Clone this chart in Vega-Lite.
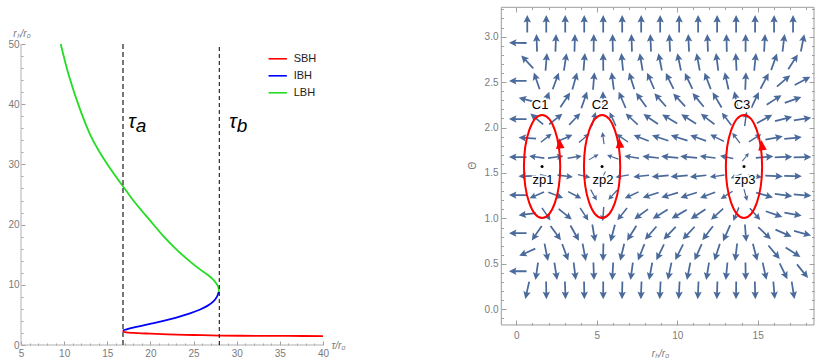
{
"$schema":"https://vega.github.io/schema/vega-lite/v6.json",
"width":815,"height":362,"autosize":{"type":"none"},"padding":0,"background":"#ffffff",
"config":{"view":{"stroke":null},"font":"Liberation Sans",
"axis":{"grid":false,"domain":false,"labelColor":"#7a7a7a","labelFont":"Liberation Sans","labelFontSize":10,"tickColor":"#a0a0a0","tickWidth":1,"titleColor":"#7a7a7a","titleFont":"Liberation Sans","titleFontWeight":"normal","titleFontSize":10,"labelOverlap":false,"labelFlush":false}},
"datasets":{
"curves":[
{"s":"SBH","o":1,"x":16.82,"y":2.45},{"s":"SBH","o":2,"x":16.9,"y":2.22},{"s":"SBH","o":3,"x":17.2,"y":2.1},{"s":"SBH","o":4,"x":18,"y":2.0},{"s":"SBH","o":5,"x":20,"y":1.88},{"s":"SBH","o":6,"x":22,"y":1.78},{"s":"SBH","o":7,"x":25,"y":1.66},{"s":"SBH","o":8,"x":28,"y":1.57},{"s":"SBH","o":9,"x":32,"y":1.53},{"s":"SBH","o":10,"x":36,"y":1.5},{"s":"SBH","o":11,"x":40,"y":1.48},
{"s":"IBH","o":1,"x":16.82,"y":2.45},{"s":"IBH","o":2,"x":17.5,"y":2.7},{"s":"IBH","o":3,"x":18.5,"y":3.05},{"s":"IBH","o":4,"x":19.95,"y":3.5},{"s":"IBH","o":5,"x":21.5,"y":4.0},{"s":"IBH","o":6,"x":23,"y":4.55},{"s":"IBH","o":7,"x":24.5,"y":5.2},{"s":"IBH","o":8,"x":25.7,"y":5.85},{"s":"IBH","o":9,"x":26.6,"y":6.5},{"s":"IBH","o":10,"x":27.3,"y":7.25},{"s":"IBH","o":11,"x":27.7,"y":8.0},{"s":"IBH","o":12,"x":27.92,"y":8.8},
{"s":"LBH","o":1,"x":27.92,"y":8.8},{"s":"LBH","o":2,"x":27.9,"y":9.5},{"s":"LBH","o":3,"x":27.6,"y":10.3},{"s":"LBH","o":4,"x":27.1,"y":11.1},{"s":"LBH","o":5,"x":26.4,"y":11.9},{"s":"LBH","o":6,"x":25.7,"y":12.6},{"s":"LBH","o":7,"x":24.4,"y":14.1},{"s":"LBH","o":8,"x":23.0,"y":15.9},{"s":"LBH","o":9,"x":21.5,"y":18.1},{"s":"LBH","o":10,"x":19.95,"y":20.7},{"s":"LBH","o":11,"x":18.3,"y":23.5},{"s":"LBH","o":12,"x":16.8,"y":26.4},{"s":"LBH","o":13,"x":15.3,"y":29.4},{"s":"LBH","o":14,"x":14.0,"y":32.3},{"s":"LBH","o":15,"x":13.0,"y":35.0},{"s":"LBH","o":16,"x":11.8,"y":39.3},{"s":"LBH","o":17,"x":10.6,"y":44.5},{"s":"LBH","o":18,"x":9.6,"y":50.0}
],
"zp":[{"x":1.6,"y":1.571,"c":"C1","z":"zp1"},{"x":5.33,"y":1.571,"c":"C2","z":"zp2"},{"x":14.15,"y":1.571,"c":"C3","z":"zp3"}],
"heads":[{"x":2.7,"y":1.82},{"x":6.42,"y":1.826},{"x":15.27,"y":1.8}],
"arrows":[
{"x":0.68,"y":3.142,"a":0,"m":2},{"x":1.86,"y":3.142,"a":0,"m":2},{"x":3.04,"y":3.142,"a":0,"m":2},{"x":4.22,"y":3.142,"a":0,"m":2},{"x":5.4,"y":3.142,"a":0,"m":2},{"x":6.58,"y":3.142,"a":0,"m":2},{"x":7.76,"y":3.142,"a":0,"m":2},{"x":8.94,"y":3.142,"a":0,"m":2},{"x":10.12,"y":3.142,"a":0,"m":2},{"x":11.3,"y":3.142,"a":0,"m":2},{"x":12.48,"y":3.142,"a":0,"m":2},{"x":13.66,"y":3.142,"a":0,"m":2},{"x":14.84,"y":3.142,"a":0,"m":2},{"x":16.02,"y":3.142,"a":0,"m":2},{"x":17.2,"y":3.142,"a":0,"m":2},
{"x":0.09,"y":2.932,"a":-89,"m":2},{"x":1.27,"y":2.932,"a":-2.1,"m":2},{"x":2.45,"y":2.932,"a":2.2,"m":2},{"x":3.63,"y":2.932,"a":1.7,"m":2},{"x":4.81,"y":2.932,"a":0.5,"m":2},{"x":5.99,"y":2.932,"a":-0.8,"m":2},{"x":7.17,"y":2.932,"a":-1.9,"m":2},{"x":8.35,"y":2.932,"a":-2.6,"m":2},{"x":9.53,"y":2.932,"a":-2.9,"m":2},{"x":10.71,"y":2.932,"a":-2.8,"m":2},{"x":11.89,"y":2.932,"a":-2.3,"m":2},{"x":13.07,"y":2.932,"a":-1.3,"m":2},{"x":14.25,"y":2.932,"a":0.2,"m":2},{"x":15.43,"y":2.932,"a":3.1,"m":2},{"x":16.61,"y":2.932,"a":6.9,"m":2},{"x":17.79,"y":2.932,"a":11.2,"m":2},
{"x":0.68,"y":2.723,"a":-42.8,"m":2},{"x":1.86,"y":2.723,"a":4.8,"m":2},{"x":3.04,"y":2.723,"a":8.7,"m":2},{"x":4.22,"y":2.723,"a":4.6,"m":2},{"x":5.4,"y":2.723,"a":-0.5,"m":2},{"x":6.58,"y":2.723,"a":-5.6,"m":2},{"x":7.76,"y":2.723,"a":-9.4,"m":2},{"x":8.94,"y":2.723,"a":-11.4,"m":2},{"x":10.12,"y":2.723,"a":-11.8,"m":2},{"x":11.3,"y":2.723,"a":-10.6,"m":2},{"x":12.48,"y":2.723,"a":-7.7,"m":2},{"x":13.66,"y":2.723,"a":-2.9,"m":2},{"x":14.84,"y":2.723,"a":6.1,"m":2},{"x":16.02,"y":2.723,"a":19.4,"m":2},{"x":17.2,"y":2.723,"a":33,"m":2},
{"x":0.09,"y":2.513,"a":-90,"m":2},{"x":1.27,"y":2.513,"a":-19.1,"m":2},{"x":2.45,"y":2.513,"a":20.2,"m":2},{"x":3.63,"y":2.513,"a":15.7,"m":2},{"x":4.81,"y":2.513,"a":4.7,"m":2},{"x":5.99,"y":2.513,"a":-7.6,"m":2},{"x":7.17,"y":2.513,"a":-17.5,"m":2},{"x":8.35,"y":2.513,"a":-23.6,"m":2},{"x":9.53,"y":2.513,"a":-26.1,"m":2},{"x":10.71,"y":2.513,"a":-25.3,"m":2},{"x":11.89,"y":2.513,"a":-21.1,"m":2},{"x":13.07,"y":2.513,"a":-12.7,"m":2},{"x":14.25,"y":2.513,"a":2.2,"m":2},{"x":15.43,"y":2.513,"a":27.6,"m":2},{"x":16.61,"y":2.513,"a":49.1,"m":2},{"x":17.79,"y":2.513,"a":62.4,"m":2},
{"x":0.68,"y":2.304,"a":-76.2,"m":2},{"x":1.86,"y":2.304,"a":20.1,"m":1.31},{"x":3.04,"y":2.304,"a":34,"m":1.48},{"x":4.22,"y":2.304,"a":19.3,"m":1.3},{"x":5.4,"y":2.304,"a":-2.3,"m":1.23},{"x":6.58,"y":2.304,"a":-23.3,"m":1.34},{"x":7.76,"y":2.304,"a":-35.9,"m":1.52},{"x":8.94,"y":2.304,"a":-41.5,"m":1.64},{"x":10.12,"y":2.304,"a":-42.6,"m":1.67},{"x":11.3,"y":2.304,"a":-39.4,"m":1.59},{"x":12.48,"y":2.304,"a":-30.7,"m":1.43},{"x":13.66,"y":2.304,"a":-12.4,"m":1.26},{"x":14.84,"y":2.304,"a":25.2,"m":1.36},{"x":16.02,"y":2.304,"a":57.1,"m":2},{"x":17.2,"y":2.304,"a":70.6,"m":2},
{"x":0.09,"y":2.094,"a":-90,"m":2},{"x":1.27,"y":2.094,"a":-49.7,"m":1.05},{"x":2.45,"y":2.094,"a":51.4,"m":1.09},{"x":3.63,"y":2.094,"a":43.8,"m":0.94},{"x":4.81,"y":2.094,"a":15.7,"m":0.7},{"x":5.99,"y":2.094,"a":-24.6,"m":0.75},{"x":7.17,"y":2.094,"a":-47.1,"m":1.0},{"x":8.35,"y":2.094,"a":-56.1,"m":1.22},{"x":9.53,"y":2.094,"a":-59,"m":1.32},{"x":10.71,"y":2.094,"a":-58.1,"m":1.28},{"x":11.89,"y":2.094,"a":-52.7,"m":1.12},{"x":13.07,"y":2.094,"a":-37.5,"m":0.85},{"x":14.25,"y":2.094,"a":7.6,"m":0.68},{"x":15.43,"y":2.094,"a":60.7,"m":1.39},{"x":16.61,"y":2.094,"a":75.8,"m":2},{"x":17.79,"y":2.094,"a":81.3,"m":2},
{"x":0.68,"y":1.885,"a":-85.9,"m":2},{"x":1.86,"y":1.885,"a":51.3,"m":0.58},{"x":3.04,"y":1.885,"a":66.5,"m":0.9},{"x":4.22,"y":1.885,"a":50,"m":0.56},{"x":5.4,"y":1.885,"a":-7.9,"m":0.36},{"x":6.58,"y":1.885,"a":-55.7,"m":0.64},{"x":7.76,"y":1.885,"a":-67.9,"m":0.96},{"x":8.94,"y":1.885,"a":-71.7,"m":1.15},{"x":10.12,"y":1.885,"a":-72.3,"m":1.19},{"x":11.3,"y":1.885,"a":-70.3,"m":1.07},{"x":12.48,"y":1.885,"a":-63.7,"m":0.81},{"x":13.66,"y":1.885,"a":-36.8,"m":0.45},{"x":14.84,"y":1.885,"a":58.1,"m":0.68},{"x":16.02,"y":1.885,"a":79.2,"m":1.93},{"x":17.2,"y":1.885,"a":84.1,"m":2},
{"x":0.09,"y":1.675,"a":-90,"m":2},{"x":1.27,"y":1.675,"a":-82.2,"m":0.81},{"x":2.45,"y":1.675,"a":82.6,"m":0.86},{"x":3.63,"y":1.675,"a":80.4,"m":0.66},{"x":4.81,"y":1.675,"a":59.9,"m":0.22},{"x":5.99,"y":1.675,"a":-70.5,"m":0.33},{"x":7.17,"y":1.675,"a":-81.4,"m":0.74},{"x":8.35,"y":1.675,"a":-83.8,"m":1.02},{"x":9.53,"y":1.675,"a":-84.4,"m":1.14},{"x":10.71,"y":1.675,"a":-84.2,"m":1.1},{"x":11.89,"y":1.675,"a":-82.9,"m":0.9},{"x":13.07,"y":1.675,"a":-78.1,"m":0.53},{"x":14.25,"y":1.675,"a":39.3,"m":0.14},{"x":15.43,"y":1.675,"a":84.8,"m":1.21},{"x":16.61,"y":1.675,"a":87.6,"m":2},{"x":17.79,"y":1.675,"a":88.6,"m":2},
{"x":0.68,"y":1.466,"a":-91.2,"m":2},{"x":1.86,"y":1.466,"a":102.8,"m":0.46},{"x":3.04,"y":1.466,"a":97,"m":0.84},{"x":4.22,"y":1.466,"a":103.3,"m":0.44},{"x":5.4,"y":1.466,"a":-153.9,"m":0.11},{"x":6.58,"y":1.466,"a":-100.9,"m":0.54},{"x":7.76,"y":1.466,"a":-96.5,"m":0.9},{"x":8.94,"y":1.466,"a":-95.3,"m":1.09},{"x":10.12,"y":1.466,"a":-95.2,"m":1.13},{"x":11.3,"y":1.466,"a":-95.8,"m":1.02},{"x":12.48,"y":1.466,"a":-98,"m":0.74},{"x":13.66,"y":1.466,"a":-110.7,"m":0.29},{"x":14.84,"y":1.466,"a":100,"m":0.59},{"x":16.02,"y":1.466,"a":93.1,"m":1.9},{"x":17.2,"y":1.466,"a":91.7,"m":2},
{"x":0.09,"y":1.257,"a":-90,"m":2},{"x":1.27,"y":1.257,"a":-112.8,"m":0.87},{"x":2.45,"y":1.257,"a":111.6,"m":0.91},{"x":3.63,"y":1.257,"a":117.4,"m":0.73},{"x":4.81,"y":1.257,"a":150.6,"m":0.39},{"x":5.99,"y":1.257,"a":-137.4,"m":0.46},{"x":7.17,"y":1.257,"a":-114.8,"m":0.8},{"x":8.35,"y":1.257,"a":-108.4,"m":1.06},{"x":9.53,"y":1.257,"a":-106.6,"m":1.18},{"x":10.71,"y":1.257,"a":-107.2,"m":1.14},{"x":11.89,"y":1.257,"a":-110.7,"m":0.95},{"x":13.07,"y":1.257,"a":-122.9,"m":0.62},{"x":14.25,"y":1.257,"a":165,"m":0.35},{"x":15.43,"y":1.257,"a":105.6,"m":1.26},{"x":16.61,"y":1.257,"a":97.2,"m":2},{"x":17.79,"y":1.257,"a":94.4,"m":2},
{"x":0.68,"y":1.047,"a":-97.5,"m":2},{"x":1.86,"y":1.047,"a":145.7,"m":0.8},{"x":3.04,"y":1.047,"a":128.5,"m":1.06},{"x":4.22,"y":1.047,"a":146.9,"m":0.79},{"x":5.4,"y":1.047,"a":-175.7,"m":0.66},{"x":6.58,"y":1.047,"a":-141.2,"m":0.85},{"x":7.76,"y":1.047,"a":-126.6,"m":1.11},{"x":8.94,"y":1.047,"a":-121.2,"m":1.27},{"x":10.12,"y":1.047,"a":-120.3,"m":1.31},{"x":11.3,"y":1.047,"a":-123.2,"m":1.21},{"x":12.48,"y":1.047,"a":-132.1,"m":0.98},{"x":13.66,"y":1.047,"a":-157.8,"m":0.71},{"x":14.84,"y":1.047,"a":138.7,"m":0.88},{"x":16.02,"y":1.047,"a":109.2,"m":2},{"x":17.2,"y":1.047,"a":100.7,"m":2},
{"x":0.09,"y":0.838,"a":-90,"m":2},{"x":1.27,"y":0.838,"a":-145.6,"m":1.42},{"x":2.45,"y":0.838,"a":144,"m":1.45},{"x":3.63,"y":0.838,"a":150.9,"m":1.34},{"x":4.81,"y":0.838,"a":170.8,"m":1.19},{"x":5.99,"y":0.838,"a":-165.2,"m":1.21},{"x":7.17,"y":0.838,"a":-148,"m":1.38},{"x":8.35,"y":0.838,"a":-139.2,"m":1.55},{"x":9.53,"y":0.838,"a":-136,"m":1.63},{"x":10.71,"y":0.838,"a":-137,"m":1.6},{"x":11.89,"y":0.838,"a":-142.7,"m":1.47},{"x":13.07,"y":0.838,"a":-156,"m":1.28},{"x":14.25,"y":0.838,"a":175.6,"m":1.17},{"x":15.43,"y":0.838,"a":134,"m":1.68},{"x":16.61,"y":0.838,"a":113.7,"m":2},{"x":17.79,"y":0.838,"a":104.9,"m":2},
{"x":0.68,"y":0.628,"a":-114.2,"m":2},{"x":1.86,"y":0.628,"a":168.7,"m":2},{"x":3.04,"y":0.628,"a":159.8,"m":2},{"x":4.22,"y":0.628,"a":169.2,"m":2},{"x":5.4,"y":0.628,"a":-178.7,"m":2},{"x":6.58,"y":0.628,"a":-166.7,"m":2},{"x":7.76,"y":0.628,"a":-158.4,"m":2},{"x":8.94,"y":0.628,"a":-154.2,"m":2},{"x":10.12,"y":0.628,"a":-153.3,"m":2},{"x":11.3,"y":0.628,"a":-155.8,"m":2},{"x":12.48,"y":0.628,"a":-162,"m":2},{"x":13.66,"y":0.628,"a":-173.2,"m":2},{"x":14.84,"y":0.628,"a":165.5,"m":2},{"x":16.02,"y":0.628,"a":139.8,"m":2},{"x":17.2,"y":0.628,"a":122.7,"m":2},
{"x":0.09,"y":0.419,"a":-90,"m":2},{"x":1.27,"y":0.419,"a":-171.7,"m":2},{"x":2.45,"y":0.419,"a":171.2,"m":2},{"x":3.63,"y":0.419,"a":173.2,"m":2},{"x":4.81,"y":0.419,"a":178,"m":2},{"x":5.99,"y":0.419,"a":-176.8,"m":2},{"x":7.17,"y":0.419,"a":-172.4,"m":2},{"x":8.35,"y":0.419,"a":-169.6,"m":2},{"x":9.53,"y":0.419,"a":-168.3,"m":2},{"x":10.71,"y":0.419,"a":-168.8,"m":2},{"x":11.89,"y":0.419,"a":-170.8,"m":2},{"x":13.07,"y":0.419,"a":-174.6,"m":2},{"x":14.25,"y":0.419,"a":179.1,"m":2},{"x":15.43,"y":0.419,"a":167.5,"m":2},{"x":16.61,"y":0.419,"a":154,"m":2},{"x":17.79,"y":0.419,"a":141.2,"m":2},
{"x":0.68,"y":0.209,"a":-167.5,"m":2},{"x":1.86,"y":0.209,"a":178.9,"m":2},{"x":3.04,"y":0.209,"a":177.9,"m":2},{"x":4.22,"y":0.209,"a":178.9,"m":2},{"x":5.4,"y":0.209,"a":-179.9,"m":2},{"x":6.58,"y":0.209,"a":-178.7,"m":2},{"x":7.76,"y":0.209,"a":-177.7,"m":2},{"x":8.94,"y":0.209,"a":-177.2,"m":2},{"x":10.12,"y":0.209,"a":-177.1,"m":2},{"x":11.3,"y":0.209,"a":-177.4,"m":2},{"x":12.48,"y":0.209,"a":-178.1,"m":2},{"x":13.66,"y":0.209,"a":-179.3,"m":2},{"x":14.84,"y":0.209,"a":178.5,"m":2},{"x":16.02,"y":0.209,"a":175.2,"m":2},{"x":17.2,"y":0.209,"a":171.1,"m":2}
]},
"layer":[
{"layer":[
 {"data":{"name":"curves"},
  "mark":{"type":"line","strokeWidth":1.8,"interpolate":"catmull-rom"},
  "encoding":{
   "x":{"field":"x","type":"quantitative","scale":{"domain":[2.5662,97.0199],"nice":false,"zero":false},
        "axis":{"orient":"bottom","offset":-17,"values":[5,10,15,20,25,30,35,40],"tickSize":-4,"labelPadding":7,"title":"τ/r₀","titleX":331,"titleY":3,"titleAlign":"left","titleBaseline":"alphabetic","titleFontStyle":"italic"}},
   "y":{"field":"y","type":"quantitative","scale":{"domain":[-2.8239,57.309],"nice":false,"zero":false},
        "axis":{"orient":"left","offset":-21,"values":[0,10,20,30,40,50],"tickSize":-4,"labelPadding":6,"title":"rₕ/r₀","titleX":0.5,"titleY":36,"titleAngle":0,"titleAlign":"center","titleBaseline":"alphabetic","titleFontStyle":"italic"}},
   "color":{"field":"s","type":"nominal","scale":{"domain":["SBH","IBH","LBH"],"range":["#ff0000","#0000ff","#22dd22"]},
        "legend":{"orient":"none","legendX":267.7,"legendY":48.8,"title":null,"padding":0,"symbolType":"stroke","symbolSize":335,"symbolStrokeWidth":1.6,"labelFontSize":11,"labelFont":"Liberation Sans","labelColor":"#222222","labelOffset":6,"rowPadding":2}},
   "order":{"field":"o","type":"quantitative"}}},
 {"data":{"values":[{"x":5,"x2":5,"y":0,"y2":50},{"x":5,"x2":40,"y":0,"y2":0}]},
  "mark":{"type":"rule","color":"#b0b0b0","strokeWidth":1},
  "encoding":{
   "x":{"field":"x","type":"quantitative","scale":{"domain":[2.5662,97.0199],"nice":false,"zero":false},
        "axis":{"orient":"bottom","offset":-17,"values":[6,7,8,9,11,12,13,14,16,17,18,19,21,22,23,24,26,27,28,29,31,32,33,34,36,37,38,39],"tickSize":-2,"labels":false,"title":null}},
   "x2":{"field":"x2"},
   "y":{"field":"y","type":"quantitative","scale":{"domain":[-2.8239,57.309],"nice":false,"zero":false},
        "axis":{"orient":"left","offset":-21,"values":[2,4,6,8,12,14,16,18,22,24,26,28,32,34,36,38,42,44,46,48],"tickSize":-2,"labels":false,"title":null}},
   "y2":{"field":"y2"}}},
 {"data":{"values":[{"x":16.82,"y":0,"y2":50}]},
  "mark":{"type":"rule","color":"#555555","strokeWidth":1.6,"strokeDash":[5,3]},
  "encoding":{"x":{"field":"x","type":"quantitative","scale":{"domain":[2.5662,97.0199],"nice":false,"zero":false},"axis":null},
   "y":{"field":"y","type":"quantitative","scale":{"domain":[-2.8239,57.309],"nice":false,"zero":false},"axis":null},"y2":{"field":"y2"}}},
 {"data":{"values":[{"x":27.98,"y":0,"y2":50}]},
  "mark":{"type":"rule","color":"#000000","strokeWidth":1,"strokeDash":[4,3]},
  "encoding":{"x":{"field":"x","type":"quantitative","scale":{"domain":[2.5662,97.0199],"nice":false,"zero":false},"axis":null},
   "y":{"field":"y","type":"quantitative","scale":{"domain":[-2.8239,57.309],"nice":false,"zero":false},"axis":null},"y2":{"field":"y2"}}},
 {"data":{"values":[{"x":17.44,"y":36.1,"s":"a"},{"x":29.14,"y":36.1,"s":"b"}]},
  "mark":{"type":"text","fontSize":20,"fontStyle":"italic","align":"left","baseline":"alphabetic","color":"#000000","font":"Liberation Sans"},
  "encoding":{"x":{"field":"x","type":"quantitative","scale":{"domain":[2.5662,97.0199],"nice":false,"zero":false},"axis":null},
   "y":{"field":"y","type":"quantitative","scale":{"domain":[-2.8239,57.309],"nice":false,"zero":false},"axis":null},"text":{"value":"τ"}}},
 {"data":{"values":[{"x":17.44,"y":36.1,"s":"a"},{"x":29.14,"y":36.1,"s":"b"}]},
  "mark":{"type":"text","fontSize":19,"fontStyle":"italic","align":"left","baseline":"alphabetic","dx":7.5,"dy":4,"color":"#000000","font":"Liberation Sans"},
  "encoding":{"x":{"field":"x","type":"quantitative","scale":{"domain":[2.5662,97.0199],"nice":false,"zero":false},"axis":null},
   "y":{"field":"y","type":"quantitative","scale":{"domain":[-2.8239,57.309],"nice":false,"zero":false},"axis":null},"text":{"field":"s"}}}
 ],
 "resolve":{"axis":{"x":"independent","y":"independent"}}},
{"layer":[
 {"data":{"name":"arrows"},
  "mark":{"type":"point","shape":"M0,-1 L0.42,-0.15 L0.1,-0.27 L0.1,1 L-0.1,1 L-0.1,-0.27 L-0.42,-0.15 Z","filled":true,"color":"#4a6a9b","opacity":1,"strokeWidth":0},
  "encoding":{
   "x":{"field":"x","type":"quantitative","scale":{"domain":[-32.092,18.564],"nice":false,"zero":false},
        "axis":{"orient":"bottom","offset":-37,"values":[0,5,10,15],"tickSize":-5,"labelPadding":10,"title":"rₕ/r₀","titleX":660,"titleY":31,"titleAlign":"center","titleBaseline":"alphabetic","titleFontStyle":"italic"}},
   "y":{"field":"y","type":"quantitative","scale":{"domain":[-0.5795,3.4034],"nice":false,"zero":false},
        "axis":{"orient":"left","offset":-501,"values":[0,0.5,1,1.5,2,2.5,3],"format":".1f","tickSize":-5,"labelPadding":8,"title":"Θ","titleX":-29,"titleY":165,"titleAngle":-90,"titleAlign":"center","titleBaseline":"middle"}},
   "angle":{"field":"a","type":"quantitative","scale":null},
   "size":{"field":"m","type":"quantitative","scale":{"domain":[0,1.2],"range":[81,310],"clamp":true},"legend":null}}},
 {"data":{"values":[{"x":-0.934,"x2":18.5,"y":-0.172,"y2":3.323}]},
  "mark":{"type":"rect","filled":false,"stroke":"#9c9c9c","strokeWidth":1},
  "encoding":{
   "x":{"field":"x","type":"quantitative","scale":{"domain":[-32.092,18.564],"nice":false,"zero":false},
        "axis":{"orient":"bottom","offset":-37,"values":[1,2,3,4,6,7,8,9,11,12,13,14,16,17,18],"tickSize":-2.5,"labels":false,"title":null}},
   "x2":{"field":"x2"},
   "y":{"field":"y","type":"quantitative","scale":{"domain":[-0.5795,3.4034],"nice":false,"zero":false},
        "axis":{"orient":"left","offset":-501,"values":[-0.1,0.1,0.2,0.3,0.4,0.6,0.7,0.8,0.9,1.1,1.2,1.3,1.4,1.6,1.7,1.8,1.9,2.1,2.2,2.3,2.4,2.6,2.7,2.8,2.9,3.1,3.2,3.3],"tickSize":-2.5,"labels":false,"title":null}},
   "y2":{"field":"y2"}}},
 {"data":{"name":"zp"},
  "mark":{"type":"point","shape":"M0,-1 C0.194,-1 0.352,-0.552 0.352,0 C0.352,0.552 0.194,1 0,1 C-0.194,1 -0.352,0.552 -0.352,0 C-0.352,-0.552 -0.194,-1 0,-1 Z","filled":false,"stroke":"#ff0000","strokeWidth":2,"size":10609,"opacity":1},
  "encoding":{
   "x":{"field":"x","type":"quantitative","scale":{"domain":[-32.092,18.564],"nice":false,"zero":false},
        "axis":{"orient":"top","offset":-7,"values":[0,5,10,15],"tickSize":-5,"labels":false,"title":null}},
   "y":{"field":"y","type":"quantitative","scale":{"domain":[-0.5795,3.4034],"nice":false,"zero":false},
        "axis":{"orient":"right","offset":-1,"values":[0,0.5,1,1.5,2,2.5,3],"tickSize":-5,"labels":false,"title":null}}}},
 {"data":{"name":"zp"},
  "mark":{"type":"circle","color":"#000000","size":9,"opacity":1},
  "encoding":{
   "x":{"field":"x","type":"quantitative","scale":{"domain":[-32.092,18.564],"nice":false,"zero":false},
        "axis":{"orient":"top","offset":-7,"values":[1,2,3,4,6,7,8,9,11,12,13,14,16,17,18],"tickSize":-2.5,"labels":false,"title":null}},
   "y":{"field":"y","type":"quantitative","scale":{"domain":[-0.5795,3.4034],"nice":false,"zero":false},
        "axis":{"orient":"right","offset":-1,"values":[-0.1,0.1,0.2,0.3,0.4,0.6,0.7,0.8,0.9,1.1,1.2,1.3,1.4,1.6,1.7,1.8,1.9,2.1,2.2,2.3,2.4,2.6,2.7,2.8,2.9,3.1,3.2,3.3],"tickSize":-2.5,"labels":false,"title":null}}}},
 {"data":{"name":"heads"},
  "mark":{"type":"point","shape":"M0,-1 L0.75,0.8 L-0.75,0.8 Z","filled":true,"color":"#ff0000","opacity":1,"size":130,"angle":-6,"strokeWidth":0},
  "encoding":{"x":{"field":"x","type":"quantitative","scale":{"domain":[-32.092,18.564],"nice":false,"zero":false},"axis":null},
   "y":{"field":"y","type":"quantitative","scale":{"domain":[-0.5795,3.4034],"nice":false,"zero":false},"axis":null}}},
 {"data":{"name":"zp"},
  "mark":{"type":"text","fontSize":13,"align":"center","baseline":"alphabetic","dy":-57.5,"dx":-2,"color":"#ffffff","stroke":"#ffffff","strokeWidth":3,"font":"Liberation Sans"},
  "encoding":{"x":{"field":"x","type":"quantitative","scale":{"domain":[-32.092,18.564],"nice":false,"zero":false},"axis":null},
   "y":{"field":"y","type":"quantitative","scale":{"domain":[-0.5795,3.4034],"nice":false,"zero":false},"axis":null},"text":{"field":"c"}}},
 {"data":{"name":"zp"},
  "mark":{"type":"text","fontSize":13,"align":"center","baseline":"alphabetic","dy":-57.5,"dx":-2,"color":"#000000","font":"Liberation Sans"},
  "encoding":{"x":{"field":"x","type":"quantitative","scale":{"domain":[-32.092,18.564],"nice":false,"zero":false},"axis":null},
   "y":{"field":"y","type":"quantitative","scale":{"domain":[-0.5795,3.4034],"nice":false,"zero":false},"axis":null},"text":{"field":"c"}}},
 {"data":{"name":"zp"},
  "mark":{"type":"text","fontSize":13,"align":"center","baseline":"alphabetic","dy":17.5,"dx":1,"color":"#ffffff","stroke":"#ffffff","strokeWidth":3,"font":"Liberation Sans"},
  "encoding":{"x":{"field":"x","type":"quantitative","scale":{"domain":[-32.092,18.564],"nice":false,"zero":false},"axis":null},
   "y":{"field":"y","type":"quantitative","scale":{"domain":[-0.5795,3.4034],"nice":false,"zero":false},"axis":null},"text":{"field":"z"}}},
 {"data":{"name":"zp"},
  "mark":{"type":"text","fontSize":13,"align":"center","baseline":"alphabetic","dy":17.5,"dx":1,"color":"#000000","font":"Liberation Sans"},
  "encoding":{"x":{"field":"x","type":"quantitative","scale":{"domain":[-32.092,18.564],"nice":false,"zero":false},"axis":null},
   "y":{"field":"y","type":"quantitative","scale":{"domain":[-0.5795,3.4034],"nice":false,"zero":false},"axis":null},"text":{"field":"z"}}}
 ],
 "resolve":{"axis":{"x":"independent","y":"independent"}}}
],
"resolve":{"scale":{"x":"independent","y":"independent"},"axis":{"x":"independent","y":"independent"}}
}
